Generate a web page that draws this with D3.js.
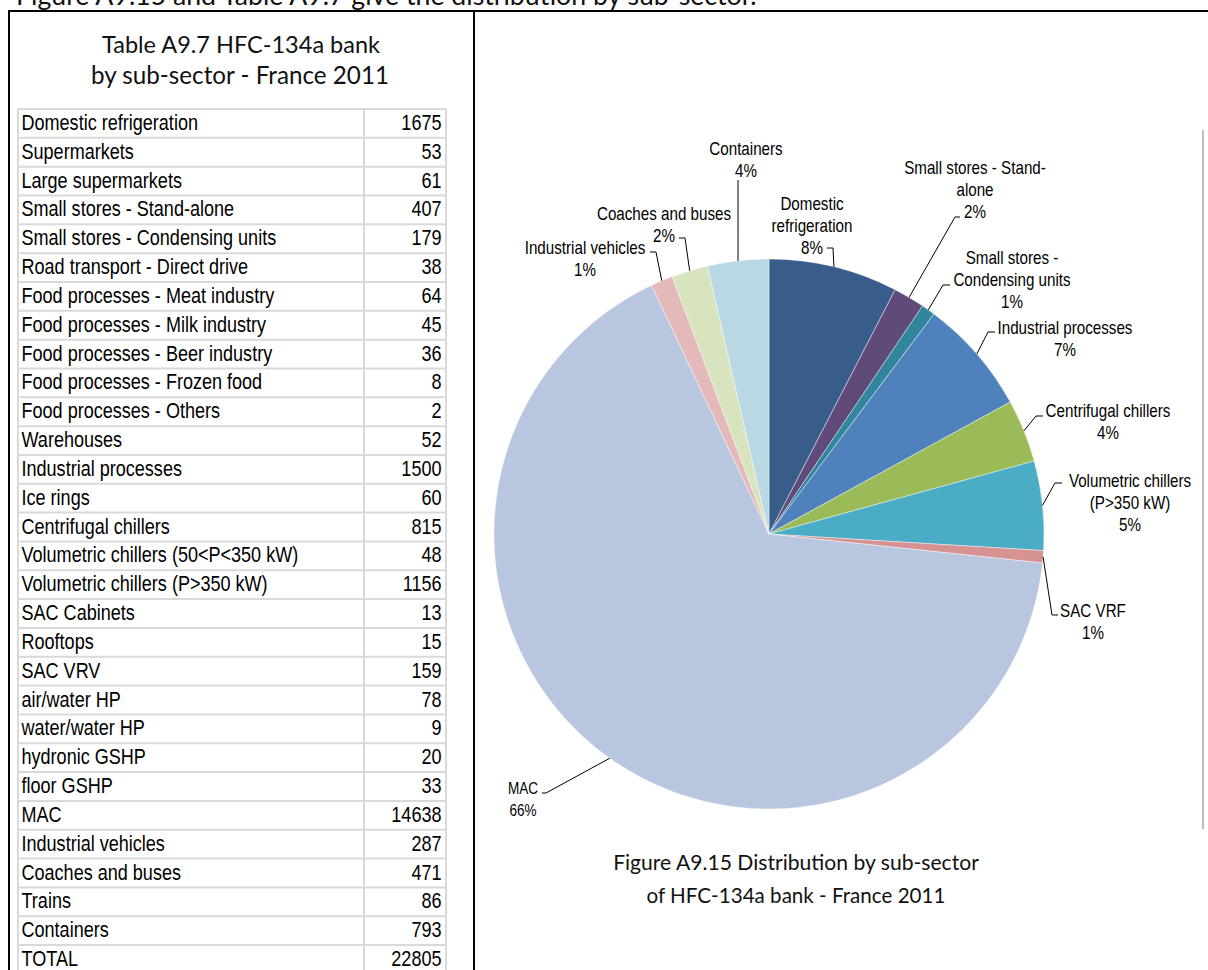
<!DOCTYPE html>
<html>
<head>
<meta charset="utf-8">
<script src="https://cdn.jsdelivr.net/npm/d3@7"></script>
<style>
  html, body { margin: 0; padding: 0; background: #fff; overflow: hidden; }
  svg { display: block; }
</style>
</head>
<body>
<svg id="chart" width="1208" height="970"></svg>
<script>
// ---- Table A9.7: HFC-134a bank by sub-sector, France 2011 (tonnes) ----
const tableCategories = [
  "Domestic refrigeration", "Supermarkets", "Large supermarkets",
  "Small stores - Stand-alone", "Small stores - Condensing units",
  "Road transport - Direct drive", "Food processes - Meat industry",
  "Food processes - Milk industry", "Food processes - Beer industry",
  "Food processes - Frozen food", "Food processes - Others", "Warehouses",
  "Industrial processes", "Ice rings", "Centrifugal chillers",
  "Volumetric chillers (50<P<350 kW)", "Volumetric chillers (P>350 kW)",
  "SAC Cabinets", "Rooftops", "SAC VRV", "air/water HP", "water/water HP",
  "hydronic GSHP", "floor GSHP", "MAC", "Industrial vehicles",
  "Coaches and buses", "Trains", "Containers"
];
const tableValues = [
  1675, 53, 61, 407, 179, 38, 64, 45, 36, 8, 2, 52, 1500, 60, 815, 48, 1156,
  13, 15, 159, 78, 9, 20, 33, 14638, 287, 471, 86, 793
];
const totalLabel = "TOTAL";
const totalValue = 22805;

// ---- Figure A9.15: sub-sectors shown in the pie (clockwise from 12 o'clock) ----
const pieCategories = [
  "Domestic refrigeration", "Small stores - Stand-alone",
  "Small stores - Condensing units", "Industrial processes",
  "Centrifugal chillers", "Volumetric chillers (P>350 kW)", "SAC VRV", "MAC",
  "Industrial vehicles", "Coaches and buses", "Containers"
];
const pieLabelLines = [
  ["Domestic", "refrigeration"], ["Small stores - Stand-", "alone"],
  ["Small stores -", "Condensing units"], ["Industrial processes"],
  ["Centrifugal chillers"], ["Volumetric chillers", "(P>350 kW)"], ["SAC VRF"],
  ["MAC"], ["Industrial vehicles"], ["Coaches and buses"], ["Containers"]
];
const pieColors = [
  "#385D8A", "#5F4A7A", "#31859C", "#4F81BD", "#9BBB59", "#4BACC6",
  "#D79392", "#B9C6DF", "#E4B9B9", "#D7E4BD", "#B9D8E3"
];

const headerText = "Figure A9.15 and Table A9.7 give the distribution by sub-sector.";
const tableTitle = ["Table A9.7 HFC-134a bank", "by sub-sector - France 2011"];
const figureCaption = ["Figure A9.15 Distribution by sub-sector", "of HFC-134a bank - France 2011"];

// ---- layout ----
const W = 1208, H = 970;
const svg = d3.select("#chart");
const NARROW = "'Liberation Sans Narrow', 'Arial Narrow', 'Liberation Sans', Arial, sans-serif";
const TITLE_FONT = "Lato, 'Open Sans', sans-serif";

// Is a narrow sans installed? If not, compress the regular one.
const probe = svg.append("text").attr("font-size", 20).text("Domestic refrigeration");
probe.attr("font-family", "'Liberation Sans Narrow'");
const wN = probe.node().getComputedTextLength();
probe.attr("font-family", "'Liberation Sans'");
const wR = probe.node().getComputedTextLength();
probe.remove();
const hasNarrow = wN / wR < 0.9;
function narrow(sel) {
  sel.attr("font-family", NARROW);
  if (!hasNarrow) {
    sel.each(function () {
      const len = this.getComputedTextLength();
      d3.select(this).attr("textLength", len * 0.82).attr("lengthAdjust", "spacingAndGlyphs");
    });
  }
  return sel;
}
// Fit a title line to a target width
function fitWidth(sel, target) {
  sel.each(function () {
    const fs = +this.getAttribute("font-size");
    const len = this.getComputedTextLength();
    this.setAttribute("font-size", (fs * target / len).toFixed(2));
  });
  return sel;
}

// header sentence cut by the top edge
fitWidth(svg.append("text")
  .attr("x", 16).attr("y", 5)
  .attr("font-family", TITLE_FONT).attr("font-size", 22).attr("fill", "#111")
  .text(headerText), 741);

// frame lines
const frame = svg.append("g").attr("stroke", "#000").attr("stroke-width", 2);
frame.append("line").attr("x1", 8).attr("x2", W).attr("y1", 11).attr("y2", 11);
frame.append("line").attr("x1", 9).attr("x2", 9).attr("y1", 10).attr("y2", H);
frame.append("line").attr("x1", 474).attr("x2", 474).attr("y1", 10).attr("y2", H);
svg.append("line").attr("x1", 1203).attr("x2", 1203).attr("y1", 130).attr("y2", 829)
  .attr("stroke", "#BFBFBF").attr("stroke-width", 2);

// ---- table ----
const titleG = svg.append("g").attr("font-family", TITLE_FONT).attr("fill", "#111")
  .attr("text-anchor", "middle");
fitWidth(titleG.append("text").attr("x", 241).attr("y", 53).attr("font-size", 22).text(tableTitle[0]), 278);
fitWidth(titleG.append("text").attr("x", 240).attr("y", 84).attr("font-size", 22).text(tableTitle[1]), 298);

const rows = tableCategories.map((c, i) => ({ label: c, value: tableValues[i] }))
  .concat([{ label: totalLabel, value: totalValue }]);
const tableX = d3.scaleOrdinal().domain(["label", "value", "end"]).range([18, 364, 446]);
const rowY = d3.scaleBand().domain(d3.range(rows.length)).range([109, 109 + rows.length * 28.83]);

const grid = svg.append("g").attr("stroke", "#D9D9D9").attr("stroke-width", 2);
rows.forEach((r, i) => {
  grid.append("line").attr("x1", tableX("label")).attr("x2", tableX("end"))
    .attr("y1", rowY(i)).attr("y2", rowY(i));
});
grid.append("line").attr("x1", tableX("label")).attr("x2", tableX("end"))
  .attr("y1", rowY(rows.length - 1) + rowY.bandwidth()).attr("y2", rowY(rows.length - 1) + rowY.bandwidth());
["label", "value", "end"].forEach(k => {
  grid.append("line").attr("x1", tableX(k)).attr("x2", tableX(k))
    .attr("y1", rowY(0)).attr("y2", rowY(rows.length - 1) + rowY.bandwidth());
});

const rowG = svg.append("g").attr("font-size", 22).attr("fill", "#000");
narrow(rowG.selectAll("text.lab").data(rows).join("text").attr("class", "lab")
  .attr("x", tableX("label") + 3.5).attr("y", (d, i) => rowY(i) + 21)
  .text(d => d.label));
narrow(rowG.selectAll("text.val").data(rows).join("text").attr("class", "val")
  .attr("x", tableX("end") - 4.5).attr("y", (d, i) => rowY(i) + 21)
  .attr("text-anchor", "end")
  .text(d => d.value));

// ---- pie ----
const cx = 769, cy = 534, R = 275;
const pieValues = pieCategories.map(c => tableValues[tableCategories.indexOf(c)]);
const pieSum = d3.sum(pieValues);
const pct = d3.format(".0%");
const arcs = d3.pie().sort(null).value(d => d)(pieValues);
const arc = d3.arc().innerRadius(0).outerRadius(R);
const color = d3.scaleOrdinal().domain(pieCategories).range(pieColors);

const pieG = svg.append("g").attr("transform", `translate(${cx},${cy})`);
pieG.selectAll("path").data(arcs).join("path")
  .attr("d", arc)
  .attr("fill", (d, i) => color(pieCategories[i]))
  .attr("stroke", "#fff").attr("stroke-opacity", 0.6).attr("stroke-width", 0.7);

// label placement: x centre, first-line centre y, leader start points
const labelLayout = [
  { x: 812, y: 203, lead: [[827, 248], [833, 248]] },
  { x: 975, y: 167, lead: [[960, 217], [955, 217]] },
  { x: 1012, y: 257, lead: [[950, 285], [943, 285]] },
  { x: 1065, y: 327, lead: [[995, 332], [988, 332]] },
  { x: 1108, y: 410, lead: [[1043, 416], [1036, 416]] },
  { x: 1130, y: 480, lead: [[1062, 483], [1055, 483]] },
  { x: 1093, y: 610, lead: [[1058, 615], [1052, 615]] },
  { x: 523, y: 788, lead: [[542, 793], [546, 793]], small: true },
  { x: 585, y: 247, lead: [[650, 252], [656, 252]] },
  { x: 664, y: 213, lead: [[679, 238], [685, 238]] },
  { x: 746, y: 148, lead: [[738, 180]] }
];

const labG = svg.append("g").attr("fill", "#000").attr("text-anchor", "middle");
const leadG = svg.append("g").attr("fill", "none").attr("stroke", "#000").attr("stroke-width", 1);
arcs.forEach((a, i) => {
  const L = labelLayout[i];
  const fs = L.small ? 16.5 : 18.5;
  const lh = 22;
  const lines = pieLabelLines[i].concat([pct(pieValues[i] / pieSum)]);
  lines.forEach((t, j) => {
    narrow(labG.append("text").attr("x", L.x).attr("y", L.y + j * lh + fs * 0.36)
      .attr("font-size", fs).text(t));
  });
  const mid = (a.startAngle + a.endAngle) / 2;
  const end = [cx + R * Math.sin(mid), cy - R * Math.cos(mid)];
  leadG.append("path").attr("d", d3.line()(L.lead.concat([end])));
});

// ---- caption ----
const capG = svg.append("g").attr("font-family", TITLE_FONT).attr("fill", "#111")
  .attr("text-anchor", "middle");
fitWidth(capG.append("text").attr("x", 796).attr("y", 870).attr("font-size", 22).text(figureCaption[0]), 366);
fitWidth(capG.append("text").attr("x", 796).attr("y", 903).attr("font-size", 22).text(figureCaption[1]), 299);
</script>
</body>
</html>
